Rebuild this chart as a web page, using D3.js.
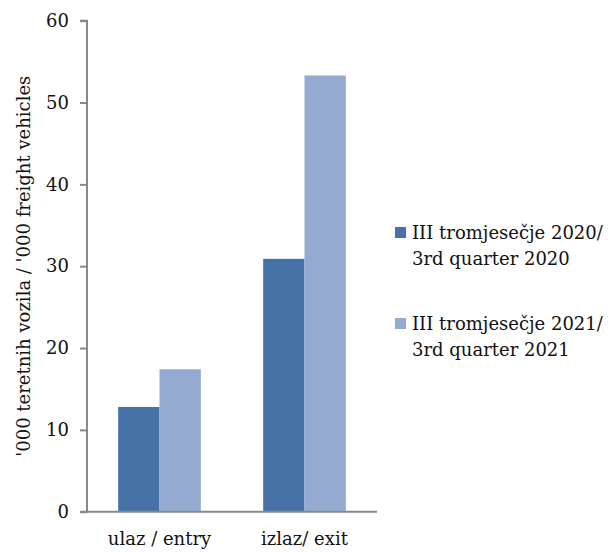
<!DOCTYPE html>
<html lang="en">
<head>
    <meta charset="UTF-8">
    <title>Freight vehicles</title>
    <script src="https://d3js.org/d3.v7.min.js"></script>
    <style>
        body { margin: 0; background: #fff; }
        text { font-family: "DejaVu Serif", serif; fill: #111; }
    </style>
</head>
<body>
<script>
// data
const categories = ["ulaz / entry", "izlaz/ exit"];
const series = ["2020", "2021"];
const values2020 = [12.8, 30.9];
const values2021 = [17.4, 53.3];
const legendLines = [
    ["III tromjesečje 2020/", "3rd quarter 2020"],
    ["III tromjesečje 2021/", "3rd quarter 2021"]
];
const yTicks = [0, 10, 20, 30, 40, 50, 60];
const yTitle = "'000 teretnih vozila / '000 freight vehicles";
const colors = ["#4672a8", "#94aad1"];

const width = 609, height = 552;
const margin = {left: 87, top: 20.7, right: 232, bottom: 40.3};
const plotW = width - margin.left - margin.right;
const plotH = height - margin.top - margin.bottom;

const svg = d3.select("body").append("svg")
    .attr("width", width)
    .attr("height", height);

const g = svg.append("g").attr("transform", `translate(${margin.left},${margin.top})`);

const x = d3.scaleBand().domain(categories).range([0, plotW]).paddingInner(0.43).paddingOuter(0.215);
const xs = d3.scaleBand().domain(series).range([0, x.bandwidth()]);
const y = d3.scaleLinear().domain([0, 60]).range([plotH, 0]);

const rows = categories.map((c, i) => ({cat: c, vals: [values2020[i], values2021[i]]}));

// bars
rows.forEach(r => {
    r.vals.forEach((v, j) => {
        g.append("rect")
            .attr("x", x(r.cat) + xs(series[j]))
            .attr("y", y(v))
            .attr("width", xs.bandwidth())
            .attr("height", plotH - y(v))
            .attr("fill", colors[j]);
    });
});

// y axis
const yAxis = g.append("g")
    .call(d3.axisLeft(y).tickValues(yTicks).tickSize(7).tickPadding(11).tickFormat(d3.format("d")));
yAxis.selectAll("path, line").attr("stroke", "#888").attr("stroke-width", 2);
yAxis.select("path").attr("d", `M-7,${plotH}H0V0H-7`);
yAxis.selectAll("text").style("font-size", "18px").style("font-family", "DejaVu Serif, serif").attr("fill", "#111");

// x axis
const xAxis = g.append("g").attr("transform", `translate(0,${plotH})`)
    .call(d3.axisBottom(x).tickSize(0).tickPadding(21));
xAxis.select("path").attr("stroke", "#888").attr("stroke-width", 2).attr("d", `M0,0H${plotW}`);
xAxis.selectAll("text").style("font-size", "18px").style("font-family", "DejaVu Serif, serif").attr("fill", "#111");

// y title
svg.append("text")
    .attr("transform", `translate(30,${margin.top + plotH / 2}) rotate(-90)`)
    .attr("text-anchor", "middle")
    .style("font-size", "18px")
    .text(yTitle);

// legend
const legend = svg.append("g").attr("transform", "translate(395,0)");
legendLines.forEach((lines, i) => {
    const top = 227 + i * 91;
    legend.append("rect")
        .attr("x", 0).attr("y", top)
        .attr("width", 11).attr("height", 11)
        .attr("fill", colors[i]);
    lines.forEach((t, k) => {
        legend.append("text")
            .attr("x", 17)
            .attr("y", top + 12 + k * 26)
            .style("font-size", "18px")
            .text(t);
    });
});
</script>
</body>
</html>
